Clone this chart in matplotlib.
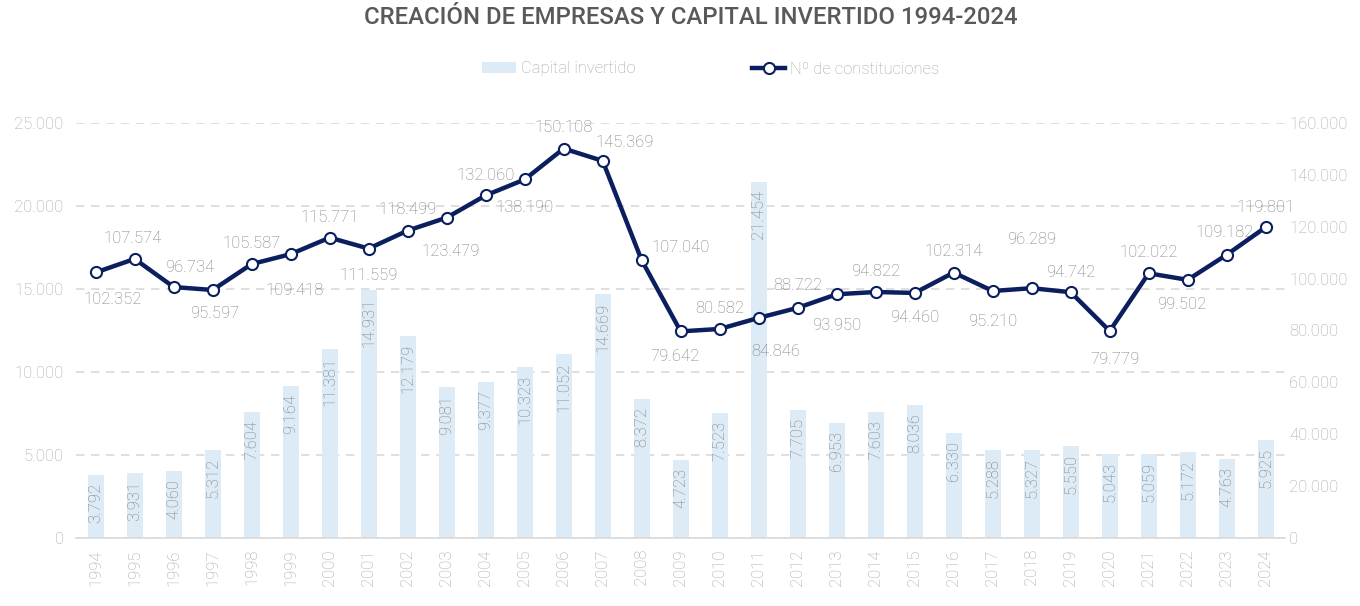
import matplotlib.pyplot as plt
from matplotlib.ticker import FuncFormatter
from matplotlib.lines import Line2D
from matplotlib.patches import Patch

# ============================================================
# DATA
# ============================================================

years = list(range(1994, 2025))

capital = [3792, 3931, 4060, 5312, 7604, 9164, 11381, 14931, 12179, 9081,
           9377, 10323, 11052, 14669, 8372, 4723, 7523, 21454, 7705, 6953,
           7603, 8036, 6330, 5288, 5327, 5550, 5043, 5059, 5172, 4763, 5925]

constituciones = [102352, 107574, 96734, 95597, 105587, 109418, 115771,
                  111559, 118499, 123479, 132060, 138190, 150108, 145369,
                  107040, 79642, 80582, 84846, 88722, 93950, 94822, 94460,
                  102314, 95210, 96289, 94742, 79779, 102022, 99502,
                  109182, 119801]

# label offsets for the line (pixels, +y = up)
label_dx = [17, -2, 16, 2, 0, 4, 0, 0, 0, 4, 0, 0, 0, 22, 39, -6,
            0, 17, 0, 0, 0, 0, 0, 0, 0, 0, 5, 0, -6, -2, 0]
label_dy = [-27, 20, 20, -24, 21, -36, 20, -27, 21, -34, 20, -28, 21, 18, 13,
            -25, 20, -34, 22, -31, 20, -25, 21, -31, 49, 20, -28, 21, -25,
            22, 20]

# ============================================================
# STYLE
# ============================================================

BAR_COLOR = "#DDEBF7"
LINE_COLOR = "#0B1F5E"
TICK_COLOR = "#A6A6A6"
LABEL_COLOR = "#7F7F7F"
GRID_COLOR = "#D9D9D9"

plt.rcParams["font.family"] = ["Roboto", "DejaVu Sans"]
PX = 0.72  # points per pixel at dpi 100


def miles(v, pos=None):
    return f"{int(v):,}".replace(",", ".")


fig = plt.figure(figsize=(13.6, 6.06), dpi=100)
ax = fig.add_axes([0.056, 0.1122, 0.889, 0.685])
ax2 = ax.twinx()

x = list(range(len(years)))

# bars
ax.bar(x, capital, width=0.41, color=BAR_COLOR, zorder=2)
for xi, v in zip(x, capital):
    ax.annotate(miles(v), (xi, v), xytext=(0, -8 * PX),
                textcoords="offset points", rotation=90,
                ha="center", va="top", fontsize=12, fontweight="light",
                color=LABEL_COLOR, zorder=3)

ax.set_xlim(-0.5, len(years) - 0.5)
ax.set_ylim(0, 25000)
ax.set_yticks(range(0, 25001, 5000))
ax.yaxis.set_major_formatter(FuncFormatter(miles))
ax.set_xticks(x)
ax.set_xticklabels([str(y) for y in years], rotation=90)
ax.grid(axis="y", color=GRID_COLOR, linestyle=(0, (5, 4)), linewidth=1.2)
ax.set_axisbelow(True)

# line
ax2.plot(x, constituciones, color=LINE_COLOR, linewidth=3.2,
         marker="o", markersize=8, markerfacecolor="white",
         markeredgecolor=LINE_COLOR, markeredgewidth=1.5, zorder=5)
for xi, v, dx, dy in zip(x, constituciones, label_dx, label_dy):
    ax2.annotate(miles(v), (xi, v), xytext=(dx * PX, dy * PX),
                 textcoords="offset points", ha="center", va="center",
                 fontsize=12, fontweight="light", color=LABEL_COLOR)

ax2.set_ylim(0, 160000)
ax2.set_yticks(range(0, 160001, 20000))
ax2.yaxis.set_major_formatter(FuncFormatter(miles))

for a in (ax, ax2):
    for side in ("top", "left", "right", "bottom"):
        a.spines[side].set_visible(False)
    a.tick_params(length=0, labelsize=12, labelcolor=TICK_COLOR)
    for lab in a.get_xticklabels() + a.get_yticklabels():
        lab.set_fontweight("light")

ax.spines["bottom"].set_visible(True)
ax.spines["bottom"].set_color(GRID_COLOR)
ax.spines["bottom"].set_linewidth(1.2)
ax.tick_params(axis="y", pad=9)
ax.tick_params(axis="x", pad=8)
ax2.tick_params(axis="y", pad=3)

# title
fig.text(0.508, 1 - 18 / 606, "CREACIÓN DE EMPRESAS Y CAPITAL INVERTIDO 1994-2024",
         ha="center", va="center", fontsize=17.2, fontweight="medium",
         color="#595959")

# legend
handles = [
    Patch(facecolor=BAR_COLOR, edgecolor="none"),
    Line2D([0], [0], color=LINE_COLOR, linewidth=3.2, marker="o",
           markersize=8, markerfacecolor="white", markeredgecolor=LINE_COLOR,
           markeredgewidth=1.5),
]
leg = fig.legend(handles, ["Capital invertido", "Nº de constituciones"],
                 loc="center", bbox_to_anchor=(0.5 + 31 / 1360, 1 - 69 / 606),
                 ncol=2, frameon=False, fontsize=12, handlelength=2.0,
                 handleheight=0.6, handletextpad=0.3, columnspacing=7.0)
for t in leg.get_texts():
    t.set_color(TICK_COLOR)
    t.set_fontweight("light")

fig.savefig("out.png", dpi=100)
